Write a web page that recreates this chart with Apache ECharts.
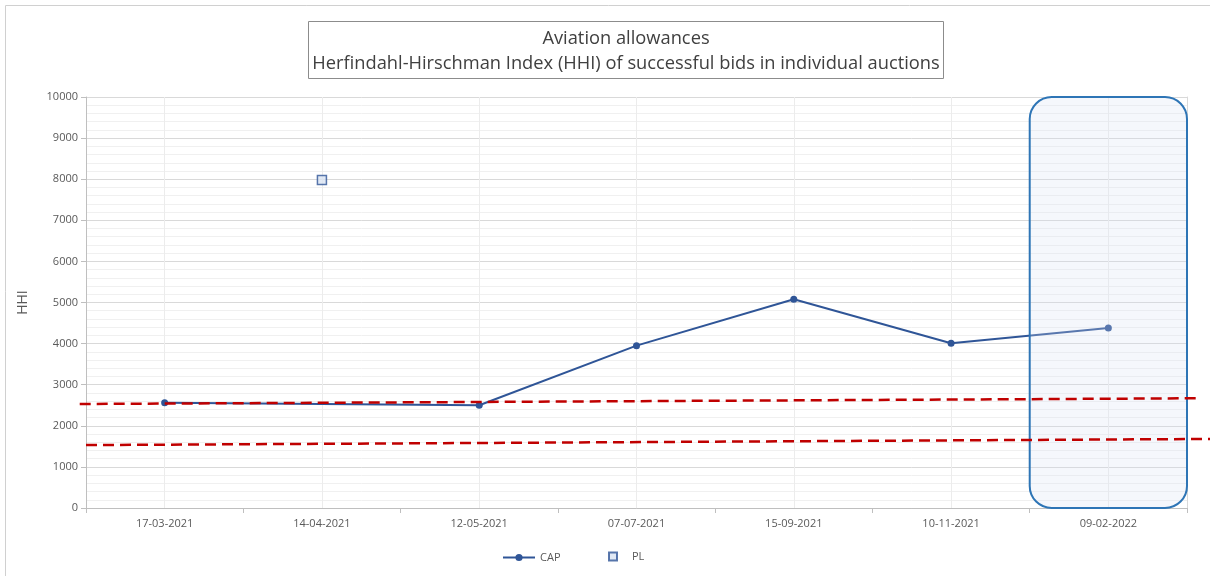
<!DOCTYPE html>
<html><head><meta charset="utf-8">
<script src="https://cdn.jsdelivr.net/npm/echarts@6/dist/echarts.min.js"></script>
<style>html,body{margin:0;padding:0;background:#fff;}#c{width:1210px;height:576px;}</style>
</head><body><div id="c"></div>
<script>
var categories = ['17-03-2021','14-04-2021','12-05-2021','07-07-2021','15-09-2021','10-11-2021','09-02-2022'];
var capValues = [2560, null, 2500, 3950, 5080, 4010, 4380];
var plValues = [null, 7980, null, null, null, null, null];
var yTicks = {min: 0, max: 10000, interval: 1000};
// reference lines (x in category-index units, y in HHI)
var refLine1 = [[-0.54, 2530], [6.58, 2670]];
var refLine2 = [[-0.5, 1530], [6.65, 1680]];
var highlightCategoryIndex = 6;

var W = 1210, gridLeft = 86, gridRight = 23, gridTop = 97, gridBottom = 68;
var unit = (W - gridLeft - gridRight) / categories.length;
var fullMin = -0.5 - gridLeft / unit;
var fullMax = categories.length - 0.5 + gridRight / unit;

var chart = echarts.init(document.getElementById('c'));
var option = {
  animation: false,
  textStyle: {fontFamily: '"Open Sans", sans-serif'},
  title: {
    text: 'Aviation allowances\nHerfindahl-Hirschman Index (HHI) of successful bids in individual auctions',
    left: 622, top: 21, textAlign: 'center',
    borderColor: '#8c8c8c', borderWidth: 1,
    padding: [5, 4, 3, 4],
    textStyle: {fontSize: 18.3, fontWeight: 'normal', color: '#404040', lineHeight: 25, align: 'center', fontFamily: '"Open Sans", sans-serif'}
  },
  legend: [{
    left: 497, bottom: 8, itemWidth: 32, itemHeight: 9,
    textStyle: {fontSize: 11, color: '#595959'},
    data: ['CAP']
  }, {
    left: 603, bottom: 9, itemWidth: 8, itemHeight: 8,
    textStyle: {fontSize: 11, color: '#595959', padding: [0, 0, 0, 10]},
    data: ['PL']
  }],
  grid: [
    {left: gridLeft, right: gridRight, top: gridTop, bottom: gridBottom, containLabel: false},
    {left: 0, right: 0, top: gridTop, bottom: gridBottom, containLabel: false}
  ],
  xAxis: [{
    type: 'category', data: categories, boundaryGap: true, gridIndex: 0,
    axisLine: {lineStyle: {color: '#bfbfbf'}},
    axisTick: {show: true, length: 5, lineStyle: {color: '#bfbfbf'}},
    axisLabel: {fontSize: 11, color: '#595959', margin: 10},
    splitLine: {show: false}
  }, {
    type: 'value', min: -0.5, max: categories.length - 0.5, interval: 0.5, show: true, position: 'top', gridIndex: 0,
    axisLine: {show: false}, axisTick: {show: false}, axisLabel: {show: false},
    splitLine: {show: true, lineStyle: {color: ['rgba(0,0,0,0)', '#ececec']}}
  }, {
    type: 'value', min: fullMin, max: fullMax, show: false, gridIndex: 1
  }],
  yAxis: [{
    type: 'value', min: yTicks.min, max: yTicks.max, interval: yTicks.interval, gridIndex: 0,
    name: 'HHI', nameLocation: 'middle', nameGap: 56, nameRotate: 90,
    nameTextStyle: {fontSize: 14, color: '#595959'},
    axisLine: {show: true, onZero: false, lineStyle: {color: '#bfbfbf'}},
    axisTick: {show: true, length: 5, lineStyle: {color: '#bfbfbf'}},
    axisLabel: {fontSize: 11, color: '#595959', margin: 8, formatter: function (v) { return String(v); }},
    splitLine: {lineStyle: {color: '#d9d9d9'}},
    minorTick: {show: false, splitNumber: 5},
    minorSplitLine: {show: true, lineStyle: {color: '#f0f0f0'}}
  }, {
    type: 'value', min: yTicks.min, max: yTicks.max, position: 'right', gridIndex: 0,
    axisLine: {show: true, onZero: false, lineStyle: {color: '#d9d9d9'}},
    axisTick: {show: false}, axisLabel: {show: false}, splitLine: {show: false}
  }, {
    type: 'value', min: yTicks.min, max: yTicks.max, show: false, gridIndex: 1
  }],
  series: [{
    name: 'ref1', type: 'line', xAxisIndex: 2, yAxisIndex: 2, data: refLine1, clip: false,
    showSymbol: false, silent: true, z: 150,
    lineStyle: {color: '#c00000', width: 2.5, type: [11, 6]}
  }, {
    name: 'ref2', type: 'line', xAxisIndex: 2, yAxisIndex: 2, data: refLine2, clip: false,
    showSymbol: false, silent: true, z: 150,
    lineStyle: {color: '#c00000', width: 2.5, type: [11, 6]}
  }, {
    name: 'CAP', type: 'line', data: capValues, connectNulls: true,
    symbol: 'circle', symbolSize: 7, z: 4,
    lineStyle: {color: '#2f5597', width: 2},
    itemStyle: {color: '#2f5597', borderWidth: 0}
  }, {
    name: 'PL', type: 'scatter', data: plValues,
    symbol: 'rect', symbolSize: 9, z: 4,
    itemStyle: {color: '#dae3f3', borderColor: '#2f5597', borderWidth: 1.5}
  }]
};
chart.setOption(option);

var xl = chart.convertToPixel({xAxisIndex: 1}, highlightCategoryIndex - 0.5);
var xr = chart.convertToPixel({xAxisIndex: 1}, highlightCategoryIndex + 0.5);
var yt = chart.convertToPixel({yAxisIndex: 0}, yTicks.max);
var yb = chart.convertToPixel({yAxisIndex: 0}, yTicks.min);
chart.setOption({
  graphic: [{
    type: 'rect', z: 100, silent: true,
    shape: {x: xl, y: yt, width: xr - xl, height: yb - yt, r: 22},
    style: {fill: 'rgba(214,224,244,0.25)', stroke: '#2e75b6', lineWidth: 2}
  }, {
    type: 'rect', z: 0, silent: true,
    shape: {x: 5.5, y: 5.5, width: 1210, height: 580},
    style: {fill: 'none', stroke: '#d0d0d0', lineWidth: 1}
  }]
});
</script></body></html>
